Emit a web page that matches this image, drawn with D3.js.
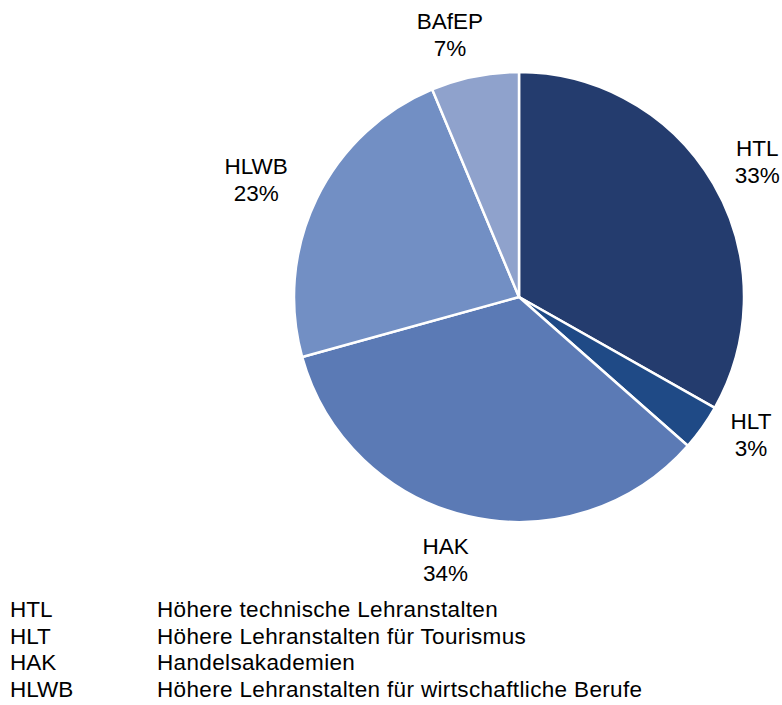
<!DOCTYPE html>
<html><head><meta charset="utf-8">
<script src="https://cdn.jsdelivr.net/npm/d3@7"></script>
<style>body{margin:0;background:#fff}svg{display:block}text{font-family:"Liberation Sans",Arial,sans-serif;fill:#000}</style>
</head><body>
<svg id="c" width="782" height="705"></svg>
<script>
const categories = ["HTL","HLT","HAK","HLWB","BAfEP"];
const values = [33.2, 3.3, 34.2, 23.0, 6.3];
const pctLabels = ["33%","3%","34%","23%","7%"];
const colors = ["#243c6e","#1f4a86","#5b7ab5","#728fc4","#8fa2cc"];
const legendAbbr = ["HTL","HLT","HAK","HLWB"];
const legendText = ["Höhere technische Lehranstalten","Höhere Lehranstalten für Tourismus","Handelsakademien","Höhere Lehranstalten für wirtschaftliche Berufe"];

const svg = d3.select("#c");
const cx = 519, cy = 297, R = 225;
const pie = d3.pie().sort(null).value(d => d)(values);
const arc = d3.arc().innerRadius(0).outerRadius(R);
const g = svg.append("g").attr("transform", `translate(${cx},${cy})`);
g.selectAll("path").data(pie).join("path")
  .attr("d", arc).attr("fill", (d,i) => colors[i])
  .attr("stroke", "#fff").attr("stroke-width", 2.5).attr("stroke-linejoin","round");

const FS = 22.5;
const radii = [R+45, R+50, R+40, R+45, R+40];
const nudges = [[5,0],[8,-22],[-14,4],[-20,1],[-17,-3]];
pie.forEach((d,i) => {
  const mid = (d.startAngle + d.endAngle)/2;
  const x = Math.sin(mid)*radii[i] + nudges[i][0];
  const y = -Math.cos(mid)*radii[i] + nudges[i][1];
  const t = g.append("text").attr("text-anchor","middle").attr("font-size",FS);
  t.append("tspan").attr("x", x).attr("y", y - 13.5 + 8).text(categories[i]);
  t.append("tspan").attr("x", x).attr("y", y + 13.5 + 8).text(pctLabels[i]);
});

const lg = svg.append("g");
legendAbbr.forEach((a,i) => {
  const y = 617 + i*26.6;
  lg.append("text").attr("x", 10).attr("y", y).attr("font-size", FS).text(a);
  lg.append("text").attr("x", 157).attr("y", y).attr("font-size", FS)
    .attr("letter-spacing", 0.35).text(legendText[i]);
});
</script>
</body></html>
